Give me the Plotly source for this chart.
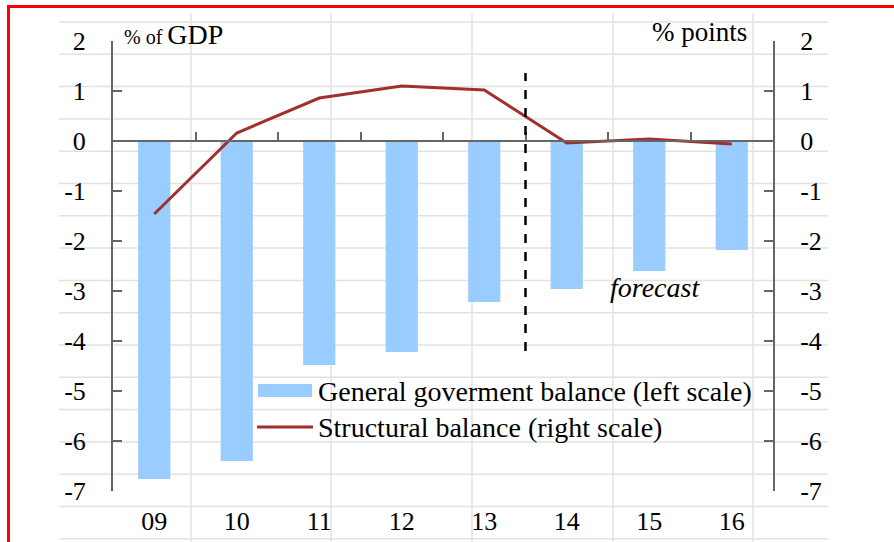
import plotly.graph_objects as go

years = ["09", "10", "11", "12", "13", "14", "15", "16"]
general_balance = [-6.76, -6.4, -4.48, -4.22, -3.22, -2.96, -2.6, -2.18]
structural_balance = [-1.46, 0.16, 0.86, 1.1, 1.02, -0.04, 0.04, -0.06]
y_ticks = [-7, -6, -5, -4, -3, -2, -1, 0, 1, 2]
y_ticktext = [str(v) for v in y_ticks]
forecast_start = 4.5

BAR_COLOR = "#99CCFF"
LINE_COLOR = "#A0302E"
AXIS_COLOR = "#666666"
FONT = "Liberation Serif"

W, H = 894, 542
L, R, T, B = 113, 773, 41, 491


def px(x):
    return (x - L) / (R - L)


def py(y):
    return (B - y) / (B - T)


xs = list(range(len(years)))

fig = go.Figure()
fig.add_trace(go.Bar(x=xs, y=general_balance, marker=dict(color=BAR_COLOR, line=dict(width=0)),
                     width=0.39, name="General goverment balance (left scale)", xaxis="x", yaxis="y"))
fig.add_trace(go.Scatter(x=xs, y=structural_balance, mode="lines",
                         line=dict(color=LINE_COLOR, width=3),
                         name="Structural balance (right scale)", xaxis="x2", yaxis="y2"))

shapes = []
# spreadsheet cell gridlines in background
gy = 22.0
while gy < H:
    shapes.append(dict(type="line", xref="paper", yref="paper", x0=px(59), x1=px(828), y0=py(gy), y1=py(gy),
                       line=dict(color="#E2E2E2", width=1.5), layer="below"))
    gy += 32.3
for gx in [191, 331, 472, 613, 753]:
    shapes.append(dict(type="line", xref="paper", yref="paper", x0=px(gx), x1=px(gx), y0=py(13), y1=py(H + 5),
                       line=dict(color="#E2E2E2", width=1.5), layer="below"))
# red frame
shapes.append(dict(type="rect", xref="paper", yref="paper", x0=px(8.5), x1=px(W + 20), y0=py(6.5), y1=py(H + 20),
                   line=dict(color="#FF0000", width=3), fillcolor="rgba(0,0,0,0)", layer="above"))
# forecast divider
shapes.append(dict(type="line", xref="x", yref="y", x0=forecast_start, x1=forecast_start, y0=-4.2, y1=1.36,
                   line=dict(color="black", width=2.5, dash="dash")))
# custom legend swatches
shapes.append(dict(type="rect", xref="paper", yref="paper", x0=px(258), x1=px(312), y0=py(397), y1=py(384),
                   fillcolor=BAR_COLOR, line=dict(width=0)))
shapes.append(dict(type="line", xref="paper", yref="paper", x0=px(257), x1=px(313), y0=py(427), y1=py(427),
                   line=dict(color=LINE_COLOR, width=3)))

annotations = [
    dict(text="General goverment balance (left scale)", xref="paper", yref="paper", x=px(316), y=py(391),
         xanchor="left", yanchor="middle", showarrow=False, font=dict(family=FONT, size=28, color="black")),
    dict(text="Structural balance (right scale)", xref="paper", yref="paper", x=px(316), y=py(427),
         xanchor="left", yanchor="middle", showarrow=False, font=dict(family=FONT, size=28, color="black")),
    dict(text="<span style='font-size:20px'>% of </span>GDP", xref="paper", yref="paper", x=px(122), y=py(35),
         xanchor="left", yanchor="middle", showarrow=False, font=dict(family=FONT, size=28, color="black")),
    dict(text="% points", xref="paper", yref="paper", x=px(749), y=py(32),
         xanchor="right", yanchor="middle", showarrow=False, font=dict(family=FONT, size=27, color="black")),
    dict(text="<i>forecast</i>", xref="x", yref="y", x=6.07, y=-2.92,
         xanchor="center", yanchor="middle", showarrow=False, font=dict(family=FONT, size=28, color="black")),
]

fig.update_layout(
    width=W, height=H,
    margin=dict(l=L, r=W - R, t=T, b=H - B, pad=0, autoexpand=False),
    paper_bgcolor="white", plot_bgcolor="rgba(0,0,0,0)",
    showlegend=False,
    font=dict(family=FONT, size=26, color="black"),
    xaxis=dict(range=[-0.5, len(years) - 0.5], tickvals=xs, ticktext=years, showgrid=False, zeroline=False,
               showline=False, ticks="outside", ticklen=7, tickcolor="rgba(0,0,0,0)", automargin=False,
               tickfont=dict(family=FONT, size=26)),
    xaxis2=dict(range=[-0.5, len(years) - 0.5], overlaying="x", anchor="free", position=py(141), side="bottom",
                tickvals=[i + 0.5 for i in xs[:-1]], showticklabels=False, ticks="inside", ticklen=8,
                tickwidth=2, tickcolor=AXIS_COLOR, showline=True, linecolor=AXIS_COLOR, linewidth=2,
                showgrid=False, zeroline=False, automargin=False),
    yaxis=dict(range=[-7, 2], tickvals=y_ticks, ticktext=y_ticktext, showgrid=False, zeroline=False, showline=True,
               linecolor=AXIS_COLOR, linewidth=2, ticks="inside", ticklen=9, tickwidth=2, tickcolor=AXIS_COLOR,
               ticklabelstandoff=20, automargin=False, tickfont=dict(family=FONT, size=26)),
    yaxis2=dict(range=[-7, 2], tickvals=y_ticks, ticktext=y_ticktext, overlaying="y", side="right", anchor="x",
                showgrid=False, zeroline=False, showline=True, linecolor=AXIS_COLOR, linewidth=2, ticks="inside",
                ticklen=9, tickwidth=2, tickcolor=AXIS_COLOR, ticklabelstandoff=20, automargin=False,
                tickfont=dict(family=FONT, size=26)),
    shapes=shapes,
    annotations=annotations,
)

fig.write_html("out.html")
